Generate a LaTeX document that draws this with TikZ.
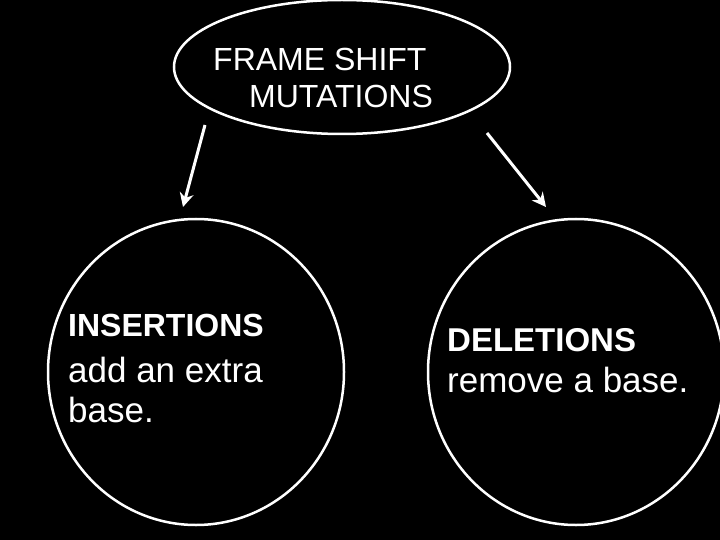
\documentclass[tikz,border=0pt]{standalone}
\usepackage{fontspec}
\usetikzlibrary{arrows.meta}
\setmainfont{Liberation Sans}
\begin{document}
\begin{tikzpicture}[x=1pt,y=-1pt,
  ring/.style={draw=white,line width=2.5pt},
  lbl/.style={text=white,anchor=base west,inner sep=0pt,font=\fontsize{35}{40}\selectfont},
  hd/.style={lbl,font=\fontsize{33}{38}\selectfont\bfseries},
  arr/.style={draw=white,line width=3pt,-{Stealth[length=14pt,width=14pt]}}]
\fill[black] (0,0) rectangle (720,540);
\useasboundingbox (0,0) rectangle (720,540);
\draw[ring] (342,67) ellipse [x radius=168,y radius=67];
\draw[ring] (196,372) ellipse [x radius=148,y radius=153];
\draw[ring] (576,372) ellipse [x radius=148,y radius=153];
\node[lbl,font=\fontsize{32}{36}\selectfont] (t1) at (213,71) {FRAME SHIFT};
\node[lbl,font=\fontsize{32}{36}\selectfont] (t2) at (249,108) {MUTATIONS};
\node[hd,font=\fontsize{32}{36}\selectfont\bfseries] (i1) at (68,336) {INSERTIONS};
\node[lbl] (i2) at (68,382) {add an extra};
\node[lbl] (i3) at (68,422) {base.};
\node[hd] (d1) at (447,351) {DELETIONS};
\node[lbl] (d2) at (447,392) {remove a base.};
\coordinate (a1) at (205,125); \coordinate (b1) at (183,207);
\coordinate (a2) at (487,133); \coordinate (b2) at (546,207);
\draw[arr] (a1) -- (b1);
\draw[arr] (a2) -- (b2);
\end{tikzpicture}
\end{document}
